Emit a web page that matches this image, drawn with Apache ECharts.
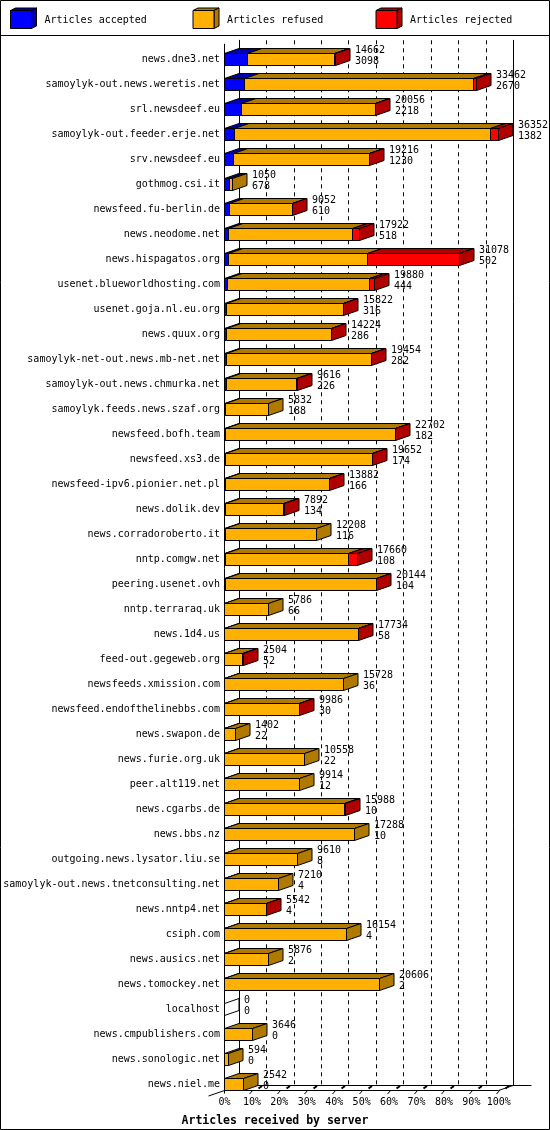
<!DOCTYPE html>
<html>
<head>
<meta charset="utf-8">
<script src="https://cdn.jsdelivr.net/npm/echarts@6/dist/echarts.min.js"></script>
<style>
html,body{margin:0;padding:0;background:#fff;}
#chart{width:550px;height:1130px;}
</style>
</head>
<body>
<div id="chart"></div>
<script>
const categories = [
  'news.dne3.net','samoylyk-out.news.weretis.net','srl.newsdeef.eu','samoylyk-out.feeder.erje.net',
  'srv.newsdeef.eu','gothmog.csi.it','newsfeed.fu-berlin.de','news.neodome.net','news.hispagatos.org',
  'usenet.blueworldhosting.com','usenet.goja.nl.eu.org','news.quux.org','samoylyk-net-out.news.mb-net.net',
  'samoylyk-out.news.chmurka.net','samoylyk.feeds.news.szaf.org','newsfeed.bofh.team','newsfeed.xs3.de',
  'newsfeed-ipv6.pionier.net.pl','news.dolik.dev','news.corradoroberto.it','nntp.comgw.net',
  'peering.usenet.ovh','nntp.terraraq.uk','news.1d4.us','feed-out.gegeweb.org','newsfeeds.xmission.com',
  'newsfeed.endofthelinebbs.com','news.swapon.de','news.furie.org.uk','peer.alt119.net','news.cgarbs.de',
  'news.bbs.nz','outgoing.news.lysator.liu.se','samoylyk-out.news.tnetconsulting.net','news.nntp4.net',
  'csiph.com','news.ausics.net','news.tomockey.net','localhost','news.cmpublishers.com',
  'news.sonologic.net','news.niel.me'
];
const totalArticles = [
  14662,33462,20056,36352,19216,1050,9052,17922,31078,19880,15822,14224,19454,9616,5832,22702,19652,
  13882,7892,12208,17660,20144,5786,17734,2504,15728,9986,1402,10558,9914,15988,17288,9610,7210,5542,
  16154,5876,20606,0,3646,594,2542
];
const acceptedArticles = [
  3098,2670,2218,1382,1230,678,610,518,502,444,316,286,282,226,188,182,174,166,134,116,108,104,66,58,
  52,36,30,22,22,12,10,10,8,4,4,4,2,2,0,0,0,0
];
const refusedArticles = [
  11514,30282,17738,33850,17936,372,8412,16474,18476,18836,15476,13858,19142,9360,5644,22440,19448,
  13686,7728,12092,16342,20010,5720,17646,2392,15692,9926,1380,10536,9902,15948,17278,9602,7206,5508,
  16150,5874,20604,0,3646,594,2542
];
const rejectedArticles = [
  50,510,100,1120,50,0,30,930,12100,600,30,80,30,30,0,80,30,30,30,0,1210,30,0,30,60,0,30,0,0,0,30,
  0,0,0,30,0,0,0,0,0,0,0
];
const tickLabels = ['0%','10%','20%','30%','40%','50%','60%','70%','80%','90%','100%'];
const seriesNames = ['Articles accepted','Articles refused','Articles rejected'];
const frontColors = ['#0000ff','#ffb000','#ff0000'];
const darkColors = ['#0000b0','#b07a00','#b00000'];

const FONT = '"DejaVu Sans Mono", "Liberation Mono", monospace';
const DX = 14.5, DY = -5, H = 6;
const maxTotal = Math.max.apply(null, totalArticles);
const nCat = categories.length;
const segArrays = [acceptedArticles, refusedArticles, rejectedArticles];

function snap(v){ return Math.round(v - 0.5) + 0.5; }

// build per-series stacked data: [start, end, catIndex, isLast, emptyRow]
const segData = [[],[],[]];
for (let i = 0; i < nCat; i++) {
  let acc = 0;
  const vals = segArrays.map(a => a[i]);
  let last = -1;
  vals.forEach((v, s) => { if (v > 0) last = s; });
  const empty = last === -1 ? 1 : 0;
  if (empty) last = 0;
  for (let s = 0; s < 3; s++) {
    segData[s].push([acc, acc + vals[s], i, s === last ? 1 : 0, empty]);
    acc += vals[s];
  }
}

function makeRender(s) {
  return function (params, api) {
    const a = api.value(0), b = api.value(1), i = api.value(2);
    const isLast = api.value(3), empty = api.value(4);
    const p0 = api.coord([a, i]), p1 = api.coord([b, i]);
    const c = p0[1];
    const yt = snap(c - H), yb = snap(c + H);
    const x0 = snap(p0[0]), x1 = snap(p1[0]);
    const children = [];
    if (b > a) {
      children.push({type:'polygon', shape:{points:[[x0,yt],[x1,yt],[x1,yb],[x0,yb]]},
        style:{fill:frontColors[s], stroke:'#000', lineWidth:1}});
      children.push({type:'polygon', shape:{points:[[x0,yt],[x0+DX,yt+DY],[x1+DX,yt+DY],[x1,yt]]},
        style:{fill:darkColors[s], stroke:'#000', lineWidth:1}});
    }
    if (isLast) {
      children.push({type:'polygon', shape:{points:[[x1,yt],[x1+DX,yt+DY],[x1+DX,yb+DY],[x1,yb]]},
        style:{fill: empty ? '#fff' : darkColors[s], stroke:'#000', lineWidth:1}});
    }
    return {type:'group', children};
  };
}

const labelData = totalArticles.map((t, i) => [t, i, acceptedArticles[i]]);
function renderLabels(params, api) {
  const p = api.coord([api.value(0), api.value(1)]);
  const x = snap(p[0]) + DX + 5;
  const c = p[1];
  return {type:'group', children:[
    {type:'text', style:{text:String(api.value(0)), x:x, y:c - 9.3, fill:'#000', font:'10px ' + FONT,
      align:'left', verticalAlign:'middle'}},
    {type:'text', style:{text:String(api.value(2)), x:x, y:c + 2.4, fill:'#000', font:'10px ' + FONT,
      align:'left', verticalAlign:'middle'}}
  ]};
}

function renderFrame(params, api) {
  const a = api.coord([0, 0]);
  const b = api.coord([maxTotal, nCat - 1]);
  const x0 = snap(a[0]), xm = snap(b[0]);
  const yTop = a[1] - 15.5;
  const yFloor = snap(b[1] + H);
  const yBack = yFloor + DY;
  const ls = {stroke:'#000', lineWidth:1};
  const ch = [];
  const line = (x1,y1,x2,y2,w) => ch.push({type:'line', shape:{x1,y1,x2,y2}, style:{stroke:'#000', lineWidth:w||1}});
  line(x0, yTop, x0, yFloor + 3);
  line(x0, yFloor, xm, yFloor);
  line(xm, yFloor, xm + DX, yBack);
  line(x0 + DX, yBack, xm + DX + 18.5, yBack);
  line(x0 + DX, yBack, x0 - 16, yFloor + 5.5);
  for (let k = 1; k < tickLabels.length; k++) {
    const xf = snap(api.coord([k * maxTotal / (tickLabels.length - 1), 0])[0]);
    line(xf - 2, yFloor + 3.5, xf + 1.5, yFloor - 0.5);
    line(xf + 7, yFloor - 2, xf + 10.5, yFloor - 4.5, 2);
  }
  return {type:'group', children: ch};
}

// legend (3D cubes + text)
const legendX = [10.5, 193, 376];
const legendGraphics = [];
legendX.forEach((lx, s) => {
  const x0 = lx, x1 = lx + 21, y0 = 10.5, y1 = 28.5, dx = 5, dy = -2.5;
  legendGraphics.push({type:'polygon', shape:{points:[[x0,y0],[x0+dx,y0+dy],[x1+dx,y0+dy],[x1,y0]]},
    style:{fill:darkColors[s], stroke:'#000', lineWidth:1}});
  legendGraphics.push({type:'polygon', shape:{points:[[x1,y0],[x1+dx,y0+dy],[x1+dx,y1+dy],[x1,y1]]},
    style:{fill:darkColors[s], stroke:'#000', lineWidth:1}});
  legendGraphics.push({type:'rect', shape:{x:x0, y:y0, width:21, height:18},
    style:{fill:frontColors[s], stroke:'#000', lineWidth:1}});
  legendGraphics.push({type:'text', x: x1 + dx + 8, y: 20,
    style:{text:seriesNames[s], fill:'#000', font:'10px ' + FONT, verticalAlign:'middle'}});
});

const chart = echarts.init(document.getElementById('chart'), null, {renderer:'canvas'});
const option = {
  backgroundColor:'#fff',
  animation:false,
  title:{text:'Articles received by server', left:'center', top:1110,
    textStyle:{fontFamily:FONT, fontWeight:'bold', fontSize:11.5, color:'#000'}},
  graphic:[
    {type:'rect', shape:{x:0.5, y:0.5, width:549, height:1129}, style:{fill:'none', stroke:'#000', lineWidth:1}, z:100},
    {type:'line', shape:{x1:0, y1:35.5, x2:550, y2:35.5}, style:{stroke:'#000', lineWidth:1}}
  ].concat(legendGraphics),
  grid:[
    {left:224.5, right:51.2, top:46.8, bottom:33.2},
    {left:239, right:36.7, top:40.3, bottom:44.7}
  ],
  xAxis:[
    {type:'value', gridIndex:0, min:0, max:maxTotal, interval:maxTotal/10,
      axisLine:{show:false}, axisTick:{show:false}, splitLine:{show:false},
      axisLabel:{margin:1, fontFamily:FONT, fontSize:10, color:'#000',
        formatter:(v) => tickLabels[Math.round(v / (maxTotal/10))]}},
    {type:'value', gridIndex:1, min:0, max:maxTotal, interval:maxTotal/10,
      axisLine:{show:false}, axisTick:{show:false}, axisLabel:{show:false},
      splitLine:{show:true, lineStyle:{color:'#000', width:1, type:[4,4]}}}
  ],
  yAxis:[
    {type:'category', gridIndex:0, data:categories, inverse:true,
      axisLine:{show:false}, axisTick:{show:false}, splitLine:{show:false},
      axisLabel:{margin:4.5, fontFamily:FONT, fontSize:10, color:'#000', interval:0}},
    {type:'value', gridIndex:1, position:'left', axisLine:{show:true, lineStyle:{color:'#000', width:1}},
      axisTick:{show:false}, axisLabel:{show:false}, splitLine:{show:false}},
    {type:'value', gridIndex:1, position:'right', axisLine:{show:true, lineStyle:{color:'#000', width:1}},
      axisTick:{show:false}, axisLabel:{show:false}, splitLine:{show:false}}
  ],
  series:[
    {type:'custom', name:'frame', xAxisIndex:0, yAxisIndex:0, data:[[0, 0]], renderItem:renderFrame,
      encode:{x:0, y:1}, silent:true, z:1, clip:false},
    {type:'custom', name:seriesNames[0], xAxisIndex:0, yAxisIndex:0, data:segData[0], renderItem:makeRender(0),
      encode:{x:[0,1], y:2}, z:2, clip:false},
    {type:'custom', name:seriesNames[1], xAxisIndex:0, yAxisIndex:0, data:segData[1], renderItem:makeRender(1),
      encode:{x:[0,1], y:2}, z:2, clip:false},
    {type:'custom', name:seriesNames[2], xAxisIndex:0, yAxisIndex:0, data:segData[2], renderItem:makeRender(2),
      encode:{x:[0,1], y:2}, z:2, clip:false},
    {type:'custom', name:'labels', xAxisIndex:0, yAxisIndex:0, data:labelData, renderItem:renderLabels,
      encode:{x:0, y:1}, silent:true, z:3, clip:false}
  ]
};
chart.setOption(option);
</script>
</body>
</html>
